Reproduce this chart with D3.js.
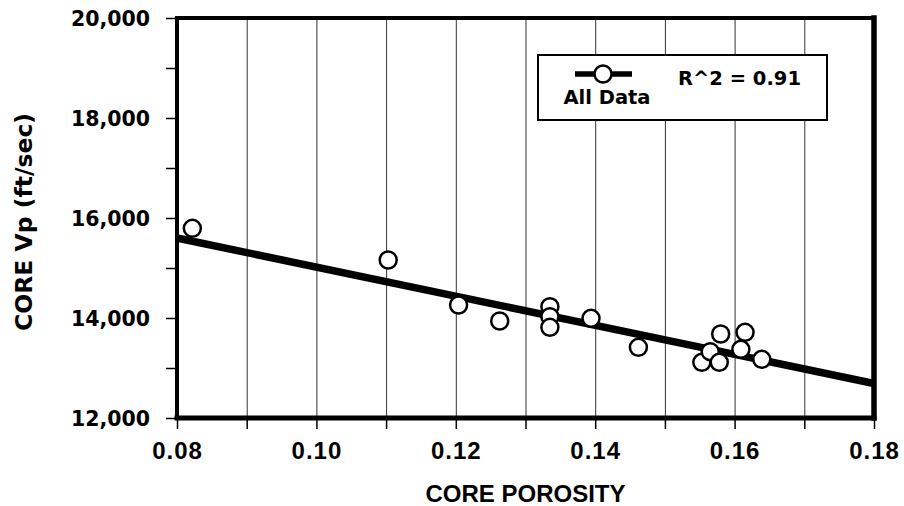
<!DOCTYPE html>
<html>
<head>
<meta charset="utf-8">
<script src="https://cdn.jsdelivr.net/npm/d3@7"></script>
<style>
  html, body { margin: 0; padding: 0; background: #fff; }
  svg { display: block; }
</style>
</head>
<body>
<svg id="chart" width="904" height="506"></svg>
<script>
// ---- data ----
const porosity = [0.0822, 0.1103, 0.1204, 0.1263, 0.1335, 0.1335, 0.1335, 0.1394, 0.1462, 0.1553, 0.1565, 0.1578, 0.1580, 0.1609, 0.1615, 0.1639];
const vp       = [15794, 15160, 14260, 13940, 14227, 14027, 13813, 13993, 13413, 13113, 13327, 13113, 13680, 13373, 13713, 13173];
const fitX = [0.08, 0.18];
const fitY = [15600, 12690];
const xTicks = [0.08, 0.09, 0.10, 0.11, 0.12, 0.13, 0.14, 0.15, 0.16, 0.17, 0.18];
const xLabels = [0.08, 0.10, 0.12, 0.14, 0.16, 0.18];
const yTicks = [12000, 13000, 14000, 15000, 16000, 17000, 18000, 19000, 20000];
const yLabels = [12000, 14000, 16000, 18000, 20000];
const legendLabel = "All Data";
const r2Label = "R^2 = 0.91";
const xTitle = "CORE POROSITY";
const yTitle = "CORE Vp (ft/sec)";

// ---- layout ----
const L = 177, R = 874, T = 18, B = 418;
const svg = d3.select("#chart");
const x = d3.scaleLinear().domain([0.08, 0.18]).range([L, R]);
const y = d3.scaleLinear().domain([12000, 20000]).range([B, T]);

// vertical gridlines
svg.append("g")
  .attr("transform", `translate(0,${B})`)
  .call(d3.axisBottom(x).tickValues(xTicks.slice(1, -1)).tickSize(-(B - T)).tickFormat(""))
  .call(g => g.select(".domain").remove())
  .call(g => g.selectAll("line").attr("stroke", "#333").attr("stroke-width", 1));

// x ticks (outside)
svg.append("g")
  .attr("transform", `translate(0,${B})`)
  .call(d3.axisBottom(x).tickValues(xTicks).tickSize(11).tickFormat(""))
  .call(g => g.select(".domain").remove())
  .call(g => g.selectAll("line").attr("stroke", "#000").attr("stroke-width", 1.5));

// x tick labels
svg.append("g")
  .attr("transform", `translate(0,${B})`)
  .call(d3.axisBottom(x).tickValues(xLabels).tickSize(0).tickPadding(0).tickFormat(d3.format(".2f")))
  .call(g => g.select(".domain").remove())
  .call(g => g.selectAll("text")
    .attr("y", 41).attr("dy", null)
    .attr("fill", "#000")
    .attr("font-family", "'Liberation Sans', Arial, sans-serif")
    .attr("font-weight", "bold")
    .attr("letter-spacing", 1)
    .attr("font-size", 24));

// y ticks (outside)
svg.append("g")
  .attr("transform", `translate(${L},0)`)
  .call(d3.axisLeft(y).tickValues(yTicks).tickSize(11).tickFormat(""))
  .call(g => g.select(".domain").remove())
  .call(g => g.selectAll("line").attr("stroke", "#000").attr("stroke-width", 1.5));

// y tick labels
svg.append("g")
  .attr("transform", `translate(${L},0)`)
  .call(d3.axisLeft(y).tickValues(yLabels).tickSize(0).tickPadding(0).tickFormat(d3.format(",")))
  .call(g => g.select(".domain").remove())
  .call(g => g.selectAll("text")
    .attr("x", -27).attr("dy", "0.36em")
    .attr("fill", "#000")
    .attr("font-family", "'DejaVu Sans', sans-serif")
    .attr("font-weight", "bold")
    .attr("font-size", 20.5));

// frame
const frame = svg.append("g").attr("stroke", "#000").attr("fill", "none").attr("stroke-linecap", "square");
frame.append("line").attr("x1", x(0.08)).attr("x2", x(0.18)).attr("y1", y(20000)).attr("y2", y(20000)).attr("stroke-width", 4);
frame.append("line").attr("x1", x(0.08)).attr("x2", x(0.18)).attr("y1", y(12000)).attr("y2", y(12000)).attr("stroke-width", 5);
frame.append("line").attr("x1", x(0.08)).attr("x2", x(0.08)).attr("y1", y(12000)).attr("y2", y(20000)).attr("stroke-width", 4);
frame.append("line").attr("x1", x(0.18)).attr("x2", x(0.18)).attr("y1", y(12000)).attr("y2", y(20000)).attr("stroke-width", 5.5);

// regression line
svg.append("line")
  .attr("x1", x(fitX[0])).attr("y1", y(fitY[0]))
  .attr("x2", x(fitX[1])).attr("y2", y(fitY[1]))
  .attr("stroke", "#000").attr("stroke-width", 7.5);

// points
svg.append("g").selectAll("circle")
  .data(porosity.map((p, i) => [p, vp[i]]))
  .join("circle")
  .attr("cx", d => x(d[0])).attr("cy", d => y(d[1]))
  .attr("r", 8.5)
  .attr("fill", "#fff").attr("stroke", "#000").attr("stroke-width", 2.5);

// legend
const lg = svg.append("g");
lg.append("rect").attr("x", 538).attr("y", 55).attr("width", 289).attr("height", 65)
  .attr("fill", "#fff").attr("stroke", "#000").attr("stroke-width", 2);
lg.append("line").attr("x1", 575).attr("x2", 632).attr("y1", 74).attr("y2", 74)
  .attr("stroke", "#000").attr("stroke-width", 5.5);
lg.append("circle").attr("cx", 603).attr("cy", 74).attr("r", 8.5)
  .attr("fill", "#fff").attr("stroke", "#000").attr("stroke-width", 2.5);
lg.append("text").attr("x", 607).attr("y", 104).attr("text-anchor", "middle")
  .attr("font-family", "'DejaVu Sans', sans-serif").attr("font-weight", "bold").attr("font-size", 19.5)
  .text(legendLabel);
lg.append("text").attr("x", 678).attr("y", 85)
  .attr("font-family", "'DejaVu Sans', sans-serif").attr("font-weight", "bold").attr("font-size", 19.5)
  .text(r2Label);

// axis titles
svg.append("text")
  .attr("x", (L + R) / 2).attr("y", 502)
  .attr("text-anchor", "middle")
  .attr("font-family", "'Liberation Sans', Arial, sans-serif")
  .attr("font-weight", "bold").attr("font-size", 24)
  .text(xTitle);
svg.append("text")
  .attr("transform", `translate(32,222) rotate(-90)`)
  .attr("text-anchor", "middle")
  .attr("font-family", "'DejaVu Sans', sans-serif")
  .attr("font-weight", "bold").attr("font-size", 23.5)
  .text(yTitle);
</script>
</body>
</html>
